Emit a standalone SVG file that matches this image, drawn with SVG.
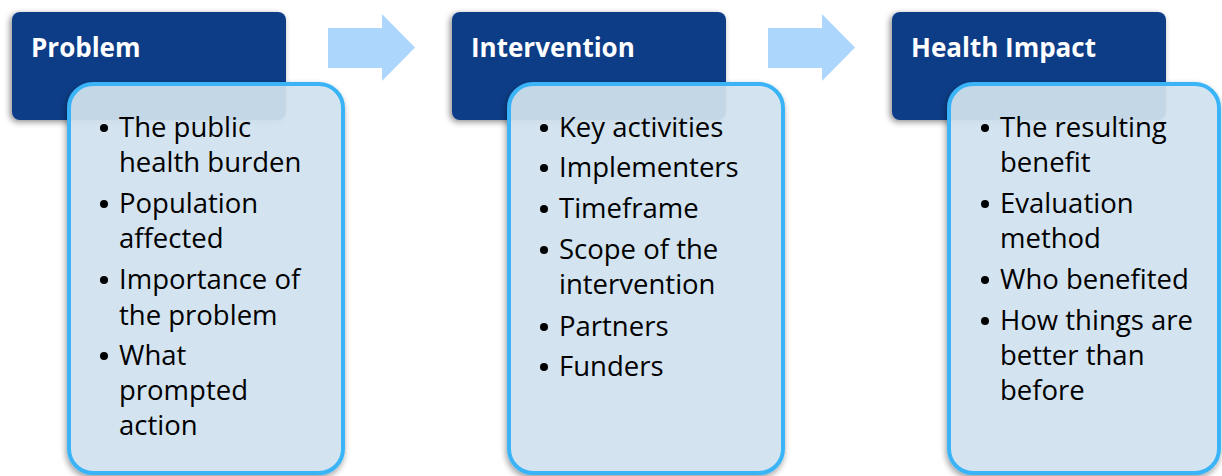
<svg xmlns="http://www.w3.org/2000/svg" width="1222" height="476" viewBox="0 0 1222 476">
<defs>
<filter id="sh" x="-20%" y="-20%" width="140%" height="140%">
<feGaussianBlur in="SourceAlpha" stdDeviation="3"/>
<feOffset dx="-2" dy="2"/>
<feComponentTransfer><feFuncA type="linear" slope="0.45"/></feComponentTransfer>
<feMerge><feMergeNode/><feMergeNode in="SourceGraphic"/></feMerge>
</filter>
<filter id="sh2" x="-20%" y="-20%" width="140%" height="140%">
<feGaussianBlur in="SourceAlpha" stdDeviation="3"/>
<feOffset dx="-1" dy="3"/>
<feComponentTransfer><feFuncA type="linear" slope="0.4"/></feComponentTransfer>
<feMerge><feMergeNode/><feMergeNode in="SourceGraphic"/></feMerge>
</filter>
</defs>
<style>
.hdr{fill:#0a3c87;}
.box{fill:rgb(212,229,242);fill-opacity:0.9;stroke:#3ab4f7;stroke-width:4;}
.arr{fill:#acd6fb;}
.ht{font-family:"Open Sans",Lato,sans-serif;font-weight:bold;font-size:26px;fill:#ffffff;}
.bt{font-family:"Open Sans",Lato,sans-serif;font-size:27.5px;fill:#000000;}
.bu{fill:#000000;}
</style>
<g id="connectors">
<polygon class="arr" points="328,28 382,28 382,14 415,47.5 382,81 382,68 328,68"/>
<polygon class="arr" points="768,28 822,28 822,14 855,47.5 822,81 822,68 768,68"/>
</g>
<g id="problem">
<rect class="hdr" x="12" y="12" width="274" height="108" rx="8" filter="url(#sh)"/>
<text class="ht" x="31" y="57">Problem</text>
<rect class="box" x="69" y="84" width="274" height="389" rx="24" filter="url(#sh2)"/>
<g class="bt">
<circle class="bu" cx="104" cy="128" r="4"/>
<text x="119" y="137">The public</text>
<text x="119" y="172">health burden</text>
<circle class="bu" cx="104" cy="204" r="4"/>
<text x="119" y="213">Population</text>
<text x="119" y="248">affected</text>
<circle class="bu" cx="104" cy="280" r="4"/>
<text x="119" y="289">Importance of</text>
<text x="119" y="325">the problem</text>
<circle class="bu" cx="104" cy="356" r="4"/>
<text x="119" y="365">What</text>
<text x="119" y="400">prompted</text>
<text x="119" y="435">action</text>
</g>
</g>
<g id="intervention">
<rect class="hdr" x="452" y="12" width="274" height="108" rx="8" filter="url(#sh)"/>
<text class="ht" x="471" y="57">Intervention</text>
<rect class="box" x="509" y="84" width="274" height="389" rx="24" filter="url(#sh2)"/>
<g class="bt">
<circle class="bu" cx="544" cy="128" r="4"/>
<text x="559" y="137">Key activities</text>
<circle class="bu" cx="544" cy="168" r="4"/>
<text x="559" y="177">Implementers</text>
<circle class="bu" cx="544" cy="209" r="4"/>
<text x="559" y="218">Timeframe</text>
<circle class="bu" cx="544" cy="250" r="4"/>
<text x="559" y="259">Scope of the</text>
<text x="559" y="294">intervention</text>
<circle class="bu" cx="544" cy="327" r="4"/>
<text x="559" y="336">Partners</text>
<circle class="bu" cx="544" cy="367" r="4"/>
<text x="559" y="376">Funders</text>
</g>
</g>
<g id="health-impact">
<rect class="hdr" x="892" y="12" width="274" height="108" rx="8" filter="url(#sh)"/>
<text class="ht" x="911" y="57">Health Impact</text>
<rect class="box" x="949" y="84" width="270" height="389" rx="24" filter="url(#sh2)"/>
<g class="bt">
<circle class="bu" cx="985" cy="128" r="4"/>
<text x="1000" y="137">The resulting</text>
<text x="1000" y="172">benefit</text>
<circle class="bu" cx="985" cy="204" r="4"/>
<text x="1000" y="213">Evaluation</text>
<text x="1000" y="248">method</text>
<circle class="bu" cx="985" cy="280" r="4"/>
<text x="1000" y="289">Who benefited</text>
<circle class="bu" cx="985" cy="321" r="4"/>
<text x="1000" y="330">How things are</text>
<text x="1000" y="365">better than</text>
<text x="1000" y="400">before</text>
</g>
</g>
</svg>
